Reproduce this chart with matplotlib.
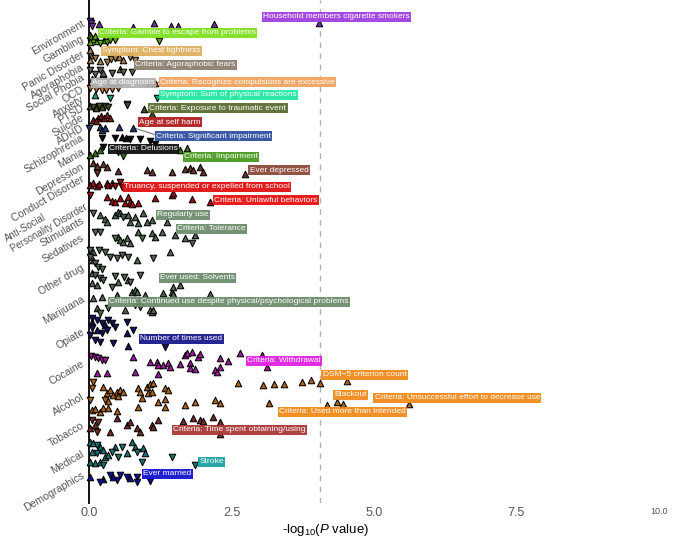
import matplotlib
matplotlib.use('Agg')
import matplotlib.pyplot as plt
from matplotlib.colors import to_rgb

plt.rcParams['font.family'] = ['Liberation Sans', 'DejaVu Sans']
plt.rcParams['mathtext.fontset'] = 'custom'
plt.rcParams['mathtext.rm'] = 'Liberation Sans'
plt.rcParams['mathtext.it'] = 'Liberation Sans:italic'

# categories (top to bottom), tick position on the phenotype axis, colour
categories = ['Environment', 'Gambling', 'Panic Disorder', 'Agoraphobia', 'Social Phobia',
              'OCD', 'Anxiety', 'PTSD', 'Suicide', 'ADHD', 'Schizophrenia', 'Mania',
              'Depression', 'Conduct Disorder', 'Anti-Social\nPersonality Disorder',
              'Stimulants', 'Sedatives', 'Other drug', 'Marijuana', 'Opiate', 'Cocaine',
              'Alcohol', 'Tobacco', 'Medical', 'Demographics']
tick_pos = [23, 38, 54, 67, 77, 89, 98, 107, 117, 127, 137, 151, 166, 178, 201,
            220, 237, 267, 298, 331, 363, 396, 425, 453, 475]
cat_colors = ['#a040e0', '#7fe020', '#e0b060', '#8b8070', '#b0b0b0', '#f4a460',
              '#20e8a0', '#5a6b30', '#b02020', '#3050a0', '#111111', '#4a9a20',
              '#8b4a3a', '#e01010', '#e81010', '#6e8c6e', '#6e8c6e', '#6e8c6e',
              '#6e8c6e', '#1a1a8c', '#e020e0', '#f08a1a', '#a83838', '#20a0a0', '#1414d0']

# points: (-log10 P, phenotype position, direction u=up / v=down)
environment = [(0.02, 21, 'v'), (0.04, 23, 'v'), (0.05, 26, 'v'), (0.18, 24, 'u'), (0.77, 27, 'u'),
               (1.14, 23, 'u'), (1.44, 26, 'u'), (1.56, 26, 'u'), (2.20, 24, 'u'), (4.03, 23, 'u')]
gambling = [(0.02, 35, 'u'), (0.04, 37, 'u'), (0.07, 39, 'u'), (0.11, 36, 'u'), (0.14, 41, 'u'),
            (0.19, 43, 'v'), (0.26, 40, 'u'), (0.32, 42, 'v'), (0.37, 40, 'v'), (0.46, 40, 'v'),
            (1.23, 41, 'v'), (0.02, 42, 'u')]
panic = [(0.02, 50, 'u'), (0.05, 55, 'u'), (0.11, 58, 'v'), (0.19, 61, 'u'), (0.32, 62, 'v'),
         (0.39, 59, 'v'), (0.46, 58, 'v'), (0.53, 57, 'u'), (0.60, 60, 'u'), (0.72, 57, 'v'),
         (0.81, 60, 'v'), (0.02, 60, 'u')]
agoraphobia = [(0.02, 70, 'v'), (0.19, 70, 'v'), (0.25, 73, 'u'), (0.40, 73, 'v'), (0.54, 69, 'u'),
               (0.60, 72, 'v'), (0.76, 72, 'v'), (0.11, 74, 'v')]
social_phobia = [(0.05, 79, 'u'), (0.14, 81, 'v'), (0.25, 80, 'v'), (0.37, 82, 'u'), (1.07, 82, 'u')]
ocd = [(0.02, 88, 'v'), (0.12, 89, 'v'), (0.23, 90, 'v'), (0.30, 90, 'v'), (0.40, 89, 'v'),
       (0.51, 88, 'v'), (1.16, 83, 'u')]
anxiety = [(0.37, 98, 'v'), (0.67, 104, 'v'), (1.20, 98, 'v'), (0.11, 95, 'u')]
ptsd = [(0.02, 106, 'u'), (0.07, 107, 'v'), (0.12, 108, 'u'), (0.18, 106, 'v'), (0.23, 107, 'u'),
        (0.28, 106, 'v'), (0.33, 107, 'v'), (0.67, 105, 'v'), (0.97, 109, 'u'), (1.11, 114, 'u')]
suicide = [(0.07, 120, 'u'), (0.16, 118, 'u'), (0.21, 116, 'u'), (0.26, 118, 'u'), (0.32, 115, 'u'),
           (0.37, 118, 'u'), (0.12, 121, 'u')]
adhd = [(0.00, 128, 'v'), (0.19, 127, 'u'), (0.23, 130, 'u'), (0.28, 128, 'u'), (0.53, 127, 'u'),
        (0.77, 128, 'u')]
schizophrenia = [(0.23, 138, 'v'), (0.46, 138, 'v'), (0.58, 137, 'u'), (0.65, 138, 'u'),
                 (0.72, 139, 'v'), (0.90, 139, 'v'), (1.07, 141, 'v'), (1.16, 144, 'v'),
                 (0.25, 147, 'v')]
mania = [(0.02, 155, 'u'), (0.11, 153, 'u'), (0.19, 150, 'u'), (0.51, 152, 'v'), (0.60, 156, 'v'),
         (1.60, 150, 'u'), (1.72, 148, 'u')]
depression = [(0.07, 163, 'u'), (0.14, 166, 'u'), (0.25, 164, 'u'), (0.32, 167, 'u'), (0.51, 171, 'u'),
              (0.14, 173, 'v'), (1.02, 170, 'u'), (1.11, 172, 'u'), (1.46, 172, 'u'), (1.69, 169, 'u'),
              (1.77, 168, 'u'), (1.83, 170, 'u'), (1.95, 167, 'u'), (2.00, 172, 'u'), (2.74, 174, 'u')]
conduct = [(0.02, 185, 'u'), (0.07, 183, 'u'), (0.14, 186, 'u'), (0.18, 184, 'u'), (0.32, 183, 'u'),
           (0.33, 185, 'u'), (0.40, 183, 'u'), (0.46, 186, 'v'), (0.54, 182, 'v'), (0.58, 187, 'v'),
           (0.02, 195, 'v')]
antisocial = [(0.32, 197, 'u'), (0.40, 201, 'u'), (0.46, 202, 'u'), (0.54, 198, 'u'), (0.63, 203, 'u'),
              (0.69, 197, 'u'), (0.72, 202, 'u'), (0.76, 204, 'u'), (0.86, 203, 'u'), (1.16, 198, 'u'),
              (1.46, 195, 'u'), (1.48, 193, 'u'), (1.81, 199, 'u'), (2.13, 202, 'u')]
stimulants = [(0.07, 213, 'v'), (0.19, 215, 'u'), (0.28, 219, 'u'), (0.32, 222, 'u'), (0.46, 215, 'u'),
              (0.51, 212, 'u'), (0.54, 213, 'u'), (0.60, 217, 'v'), (0.69, 215, 'u'), (0.72, 222, 'u'),
              (0.81, 217, 'u'), (0.86, 223, 'u'), (0.95, 213, 'u'), (1.02, 222, 'u'), (1.11, 220, 'u'),
              (1.37, 222, 'u')]
sedatives = [(0.11, 232, 'v'), (0.19, 232, 'v'), (0.46, 238, 'v'), (0.51, 237, 'u'), (0.54, 240, 'u'),
             (0.60, 242, 'u'), (0.67, 238, 'u'), (0.72, 243, 'u'), (0.86, 232, 'u'), (0.93, 238, 'v'),
             (1.11, 233, 'u'), (1.16, 237, 'u'), (1.28, 232, 'u'), (1.51, 235, 'u'), (1.69, 238, 'u'),
             (1.81, 243, 'v'), (1.86, 235, 'u')]
other_drug = [(0.02, 250, 'v'), (0.07, 252, 'u'), (0.02, 257, 'v'), (0.07, 260, 'u'), (0.11, 263, 'v'),
              (0.16, 267, 'v'), (0.23, 269, 'v'), (0.05, 273, 'u'), (0.11, 275, 'v'), (0.19, 278, 'v'),
              (0.25, 280, 'v'), (0.05, 283, 'u'), (0.14, 285, 'u'), (0.37, 257, 'v'), (0.49, 258, 'v'),
              (0.58, 255, 'v'), (0.69, 257, 'v'), (0.84, 260, 'u'), (1.13, 258, 'v'), (1.42, 252, 'u'),
              (0.46, 276, 'v'), (0.51, 282, 'u'), (0.62, 277, 'v'), (0.69, 280, 'u'), (0.72, 282, 'v'),
              (0.90, 275, 'v'), (0.40, 287, 'v'), (0.18, 250, 'v'), (0.28, 252, 'v')]
marijuana = [(0.07, 298, 'u'), (0.23, 297, 'u'), (0.49, 295, 'u'), (0.76, 292, 'u'), (0.81, 290, 'u'),
             (0.84, 292, 'u'), (0.98, 295, 'u'), (1.30, 293, 'u'), (1.46, 292, 'u'), (1.48, 294, 'u'),
             (2.13, 294, 'u'), (0.14, 308, 'u'), (0.33, 308, 'v'), (0.63, 310, 'u'), (0.81, 305, 'v'),
             (1.07, 310, 'u'), (1.11, 312, 'u'), (1.13, 310, 'u'), (1.48, 287, 'u'), (1.60, 285, 'u'),
             (0.19, 313, 'v'), (0.90, 307, 'v')]
opiate = [(0.05, 322, 'u'), (0.14, 320, 'v'), (0.23, 323, 'v'), (0.28, 325, 'u'), (0.33, 320, 'v'),
          (0.40, 323, 'v'), (0.05, 328, 'v'), (0.14, 330, 'u'), (0.23, 333, 'v'), (0.02, 335, 'v'),
          (0.46, 327, 'v'), (0.67, 322, 'v'), (0.77, 330, 'v'), (0.67, 333, 'u'), (0.11, 340, 'v'),
          (0.19, 342, 'v'), (0.42, 343, 'v'), (0.69, 346, 'u'), (1.34, 347, 'v'), (0.05, 318, 'v'),
          (0.32, 330, 'v')]
cocaine = [(0.04, 356, 'v'), (0.11, 357, 'v'), (0.16, 358, 'v'), (0.23, 360, 'v'), (0.28, 360, 'v'),
           (0.77, 357, 'u'), (1.07, 362, 'u'), (1.20, 362, 'u'), (1.21, 365, 'u'), (1.30, 365, 'u'),
           (1.39, 363, 'u'), (1.42, 367, 'u'), (1.60, 364, 'u'), (1.69, 355, 'u'), (1.72, 353, 'u'),
           (1.81, 352, 'u'), (1.77, 363, 'u'), (1.78, 368, 'u'), (1.86, 369, 'u'), (1.92, 357, 'u'),
           (1.95, 354, 'u'), (2.21, 370, 'u'), (2.25, 372, 'u'), (2.30, 358, 'u'), (2.30, 367, 'u'),
           (2.44, 361, 'u'), (2.65, 353, 'u'), (3.04, 355, 'u'), (3.13, 367, 'u'), (0.14, 373, 'u'),
           (0.32, 373, 'u'), (0.81, 372, 'u'), (1.21, 374, 'u')]
alcohol = [(0.07, 382, 'v'), (0.05, 388, 'v'), (0.25, 387, 'u'), (0.32, 393, 'u'), (0.37, 390, 'u'),
           (0.42, 395, 'u'), (0.49, 392, 'u'), (0.51, 396, 'u'), (0.54, 390, 'u'), (0.60, 392, 'u'),
           (0.28, 400, 'v'), (0.33, 401, 'u'), (0.86, 388, 'u'), (0.90, 392, 'u'), (0.93, 398, 'u'),
           (1.02, 387, 'u'), (1.04, 393, 'u'), (1.07, 384, 'u'), (1.11, 392, 'u'), (1.13, 383, 'u'),
           (1.34, 388, 'u'), (1.39, 390, 'u'), (1.21, 402, 'u'), (1.34, 399, 'u'), (1.69, 405, 'u'),
           (1.86, 402, 'u'), (2.21, 400, 'u'), (2.30, 403, 'u'), (3.15, 403, 'u'), (2.62, 383, 'u'),
           (3.06, 385, 'u'), (3.24, 384, 'u'), (3.43, 384, 'u'), (3.73, 382, 'u'), (3.90, 380, 'u'),
           (4.06, 383, 'u'), (4.53, 381, 'u'), (4.18, 405, 'u'), (4.36, 402, 'u'), (4.46, 404, 'u'),
           (5.62, 404, 'u'), (0.05, 410, 'u'), (0.11, 409, 'u'), (0.19, 412, 'u'), (0.25, 408, 'u'),
           (0.33, 408, 'u'), (0.49, 411, 'u'), (0.86, 407, 'u'), (1.34, 407, 'u'), (0.02, 400, 'v')]
tobacco = [(0.05, 420, 'v'), (0.16, 422, 'v'), (0.11, 425, 'u'), (0.14, 432, 'v'), (0.37, 432, 'u'),
           (0.49, 418, 'u'), (0.67, 425, 'u'), (0.72, 422, 'u'), (0.84, 428, 'u'), (0.90, 432, 'u'),
           (1.11, 425, 'u'), (1.13, 427, 'u'), (1.21, 420, 'u'), (1.65, 421, 'u'), (1.83, 418, 'u'),
           (1.95, 420, 'u'), (2.00, 421, 'u'), (2.18, 417, 'u'), (2.30, 422, 'u'), (2.30, 434, 'u'),
           (0.02, 428, 'u')]
medical = [(0.02, 442, 'u'), (0.07, 443, 'u'), (0.14, 445, 'v'), (0.19, 447, 'u'), (0.25, 450, 'u'),
           (0.05, 452, 'u'), (0.14, 453, 'v'), (0.28, 457, 'u'), (0.33, 455, 'u'), (0.40, 452, 'v'),
           (0.46, 447, 'u'), (0.58, 447, 'v'), (0.51, 457, 'v'), (0.67, 453, 'u'), (0.76, 442, 'u'),
           (0.81, 447, 'u'), (0.84, 452, 'v'), (0.95, 448, 'u'), (0.98, 453, 'u'), (0.93, 462, 'v'),
           (1.46, 457, 'v'), (1.86, 465, 'v'), (0.02, 462, 'u'), (0.11, 463, 'u'), (0.19, 462, 'u'),
           (0.25, 465, 'v')]
demographics = [(0.02, 477, 'u'), (0.19, 482, 'v'), (0.25, 479, 'u'), (0.37, 475, 'v'), (0.42, 477, 'u'),
                (0.49, 480, 'v'), (0.54, 475, 'v'), (0.67, 477, 'v'), (0.72, 478, 'u'), (0.84, 477, 'v'),
                (0.84, 482, 'v'), (1.07, 481, 'v')]

cat_points = [environment, gambling, panic, agoraphobia, social_phobia, ocd, anxiety, ptsd,
              suicide, adhd, schizophrenia, mania, depression, conduct, antisocial, stimulants,
              sedatives, other_drug, marijuana, opiate, cocaine, alcohol, tobacco, medical,
              demographics]

# annotated phenotypes: text, label left x, label y, category index
label_text = ['Household members cigarette smokers', 'Criteria: Gamble to escape from problems',
              'Symptom: Chest tightness', 'Criteria: Agoraphobic fears', 'Age at diagnosis',
              'Criteria: Recognize compulsions are excessive', 'Symptom: Sum of physical reactions',
              'Criteria: Exposure to traumatic event', 'Age at self harm',
              'Criteria: Significant impairment', 'Criteria: Delusions', 'Criteria: Impairment',
              'Ever depressed', 'Truancy, suspended or expelled from school',
              'Criteria: Unlawful behaviors', 'Regularly use', 'Criteria: Tolerance',
              'Ever used: Solvents', 'Criteria: Continued use despite physical/psychological problems',
              'Number of times used', 'Criteria: Withdrawal', 'DSM\u22125 criterion count', 'Blackout',
              'Criteria: Unsuccessful effort to decrease use', 'Criteria: Used more than intended',
              'Criteria: Time spent obtaining/using', 'Stroke', 'Ever married']
label_x = [3.06, 0.18, 0.23, 0.81, 0.06, 1.25, 1.25, 1.06, 0.88, 1.18, 0.35, 1.67, 2.82, 0.62,
           2.20, 1.20, 1.55, 1.25, 0.35, 0.90, 2.78, 4.10, 4.31, 5.01, 3.34, 1.48, 1.94, 0.95]
label_y = [17, 33, 51, 65, 83, 82, 95, 108, 122, 136, 149, 157, 170, 187, 200, 215, 229, 278,
           302, 339, 361, 375, 395, 398, 412, 430, 462, 474]
label_cat = [0, 1, 2, 3, 4, 5, 6, 7, 8, 9, 10, 11, 12, 13, 14, 15, 16, 17, 18, 19, 20, 21, 21,
             21, 21, 22, 23, 24]

threshold = 4.05


def darker(c, f=0.72):
    r, g, b = to_rgb(c)
    return (r * f, g * f, b * f)


fig = plt.figure(figsize=(6.94, 5.37), dpi=100)
ax = fig.add_axes([89 / 694, 34 / 537, (676 - 89) / 694, 503 / 537])

ax.axvline(threshold, color='#b0b0b0', linestyle=(0, (4, 4)), linewidth=1, zorder=1)

for pts, col in zip(cat_points, cat_colors):
    for d, mk in (('u', '^'), ('v', 'v')):
        xs = [p[0] for p in pts if p[2] == d]
        ys = [p[1] for p in pts if p[2] == d]
        ax.scatter(xs, ys, marker=mk, s=22, facecolor=darker(col), edgecolor='black',
                   linewidth=0.75, zorder=3, clip_on=False)

# leader lines
ax.plot([0.79, 1.18], [128, 135], color='#777777', linewidth=0.8, zorder=2)
ax.plot([1.14, 1.25], [83, 82], color='#777777', linewidth=0.8, zorder=2)

for t, lx, ly, ci in zip(label_text, label_x, label_y, label_cat):
    ax.text(lx, ly, t, ha='left', va='center', fontsize=6.0, color='white', zorder=4,
            bbox=dict(boxstyle='square,pad=0.15', facecolor=cat_colors[ci],
                      edgecolor='none', alpha=0.95))

ax.set_xlim(0, 10.3)
ax.set_ylim(503, 0)
for s in ['top', 'right', 'bottom']:
    ax.spines[s].set_visible(False)
ax.spines['left'].set_linewidth(1.3)

ax.set_xticks([0, 2.5, 5, 7.5, 10])
ax.set_xticklabels(['0.0', '2.5', '5.0', '7.5', '10.0'])
ax.tick_params(axis='x', length=0, pad=3, labelsize=9, labelcolor='#555555')
ax.get_xticklabels()[-1].set_fontsize(6.5)

ax.set_yticks(tick_pos)
ax.set_yticklabels(categories, rotation=30, ha='right', va='center',
                   rotation_mode='anchor', multialignment='left')
ax.tick_params(axis='y', length=0, pad=4, labelsize=7.6, labelcolor='#555555')
# the two-line label would run off the left edge at full size
ax.get_yticklabels()[14].set_fontsize(6.9)

fig.text(326 / 694, 1 - 530 / 537, r'-log$_{10}$($P$ value)', ha='center', va='center',
         fontsize=9.5)

fig.savefig('out.png', dpi=100)
